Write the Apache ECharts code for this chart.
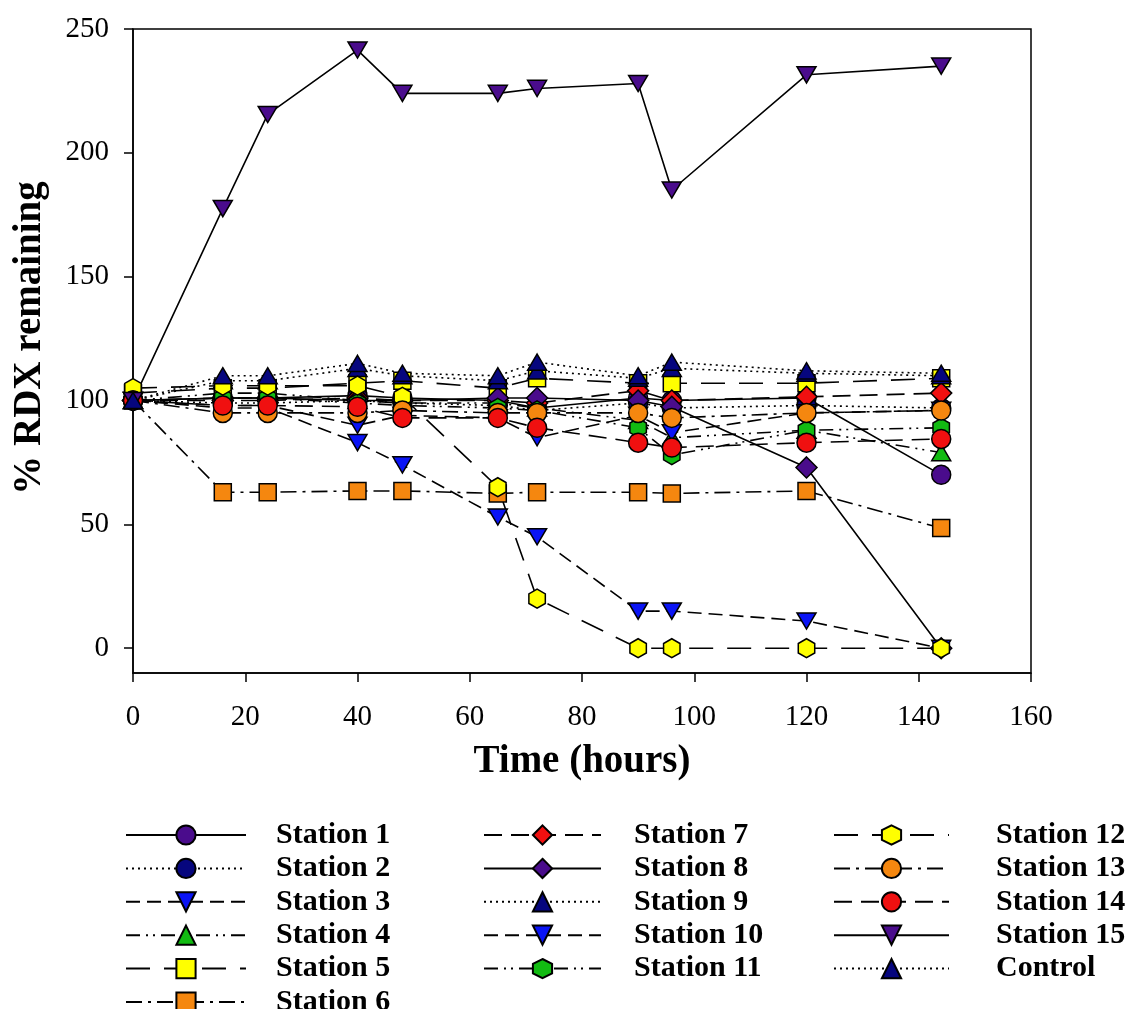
<!DOCTYPE html>
<html>
<head>
<meta charset="utf-8">
<script src="https://cdn.jsdelivr.net/npm/echarts@6/dist/echarts.min.js"></script>
<style>
  html, body { margin: 0; padding: 0; background: #fff; }
  #main { width: 1129px; height: 1009px; }
</style>
</head>
<body>
<div id="main"></div>
<script>
// sampling times (hours)
var hours = [0, 16, 24, 40, 48, 65, 72, 90, 96, 120, 144];

// % RDX remaining
var st1  = [100, 101, 101, 102, 101, 100, 97, 101, 100, 101, 70];
var st2  = [100, 99, 99, 100, 99, 98, 96, 99, 97, 98, 97];
var st3  = [100, 97, 97, 83, 74, 53, 45, 15, 15, 11, 0];
var st4  = [100, 103, 103, 100, 99, 99, 97, 92, 85, 88, 79];
var st5  = [103, 105, 105, 107, 108, 105, 109, 107, 107, 107, 109];
var st6  = [100, 63, 63, 63.5, 63.5, 62.5, 63, 63, 62.5, 63.5, 48.5];
var st7  = [100, 100, 100, 101, 100, 100, 99, 104, 100, 101.5, 103];
var st8  = [100, 101, 101, 100, 100, 101, 101, 100, 97.5, 73, 0];
var st9  = [100, 108, 108, 113, 110, 108, 112, 109, 113, 111, 110];
var st10 = [100, 98, 98, 90, 94, 93, 85, 94, 87, 95, 96];
var st11 = [100, 101, 101, 99, 98, 97, 96, 89, 78, 88, 89];
var st12 = [105, 106, 106, 106, 101.5, 65, 20, 0, 0, 0, 0];
var st13 = [100, 95, 95, 95, 96, 95, 95, 95, 93, 95, 96];
var st14 = [100, 98, 98, 97.5, 93, 93, 89, 83, 81, 83, 84.5];
var st15 = [100, 177.5, 215.5, 241.5, 224, 224, 226, 228, 185, 231.5, 235];
var control = [100, 110, 110, 115, 111, 110, 115.5, 110, 115.5, 112, 111];

var yTicks = [0, 50, 100, 150, 200, 250];

var PURPLE = "#4a0c8c", NAVY = "#06067e", BLUE = "#0a14f5", GREEN = "#12bb12",
    YELLOW = "#ffff00", ORANGE = "#f5870f", RED = "#f01010";

var DOWN = "path://M0,0 L20,0 L10,17 Z";
var UP = "path://M10,0 L20,17 L0,17 Z";
var HEX = "path://M8.66,0 L17.32,5 L17.32,15 L8.66,20 L0,15 L0,5 Z";

var SOLID = "solid", DOT = [2, 4], DASH = [14, 7], DASH2 = [18, 9],
    LONG = [24, 14], DASHDOT = [16, 6, 3, 6], DASHDOTDOT = [14, 6, 2, 5, 2, 6];

function line(name, vals, symbol, color, dash, size) {
  return {
    name: name,
    type: "line",
    data: hours.map(function (h, i) { return [h, vals[i]]; }),
    symbol: symbol,
    symbolSize: size || 19,
    symbolKeepAspect: true,
    lineStyle: { color: "#000", width: 1.6, type: dash },
    itemStyle: { color: color, borderColor: "#000", borderWidth: 1.5, opacity: 1 },
    emphasis: { disabled: true }
  };
}

var series = [
  line("Station 1", st1, "circle", PURPLE, SOLID),
  line("Station 2", st2, "circle", NAVY, DOT),
  line("Station 3", st3, DOWN, BLUE, DASH),
  line("Station 4", st4, UP, GREEN, DASHDOTDOT),
  line("Station 5", st5, "rect", YELLOW, LONG, 17),
  line("Station 6", st6, "rect", ORANGE, DASHDOT, 17),
  line("Station 7", st7, "diamond", RED, DASH2, 21),
  line("Station 8", st8, "diamond", PURPLE, SOLID, 21),
  line("Station 9", st9, UP, NAVY, DOT),
  line("Station 10", st10, DOWN, BLUE, DASH),
  line("Station 11", st11, HEX, GREEN, DASHDOTDOT),
  line("Station 12", st12, HEX, YELLOW, LONG),
  line("Station 13", st13, "circle", ORANGE, DASHDOT),
  line("Station 14", st14, "circle", RED, DASH2),
  line("Station 15", st15, DOWN, PURPLE, SOLID),
  line("Control", control, UP, NAVY, DOT)
];

function legendCol(names, left, width, pad) {
  return {
    orient: "vertical",
    left: left,
    top: 820,
    height: 240,
    padding: 0,
    itemWidth: width,
    itemHeight: 24,
    itemGap: 3.4,
    selectedMode: false,
    data: names,
    textStyle: {
      fontFamily: "Liberation Serif",
      fontWeight: "bold",
      fontSize: 30,
      lineHeight: 30,
      color: "#000",
      padding: [0, 0, 0, pad]
    }
  };
}

var chart = echarts.init(document.getElementById("main"));
var option = {
  animation: false,
  backgroundColor: "#fff",
  grid: {
    left: 133, top: 29, right: 98, bottom: 336,
    show: true, borderColor: "#000", borderWidth: 1.5
  },
  legend: [
    legendCol(["Station 1", "Station 2", "Station 3", "Station 4", "Station 5", "Station 6"], 125, 120, 25),
    legendCol(["Station 7", "Station 8", "Station 9", "Station 10", "Station 11"], 483, 117, 28),
    legendCol(["Station 12", "Station 13", "Station 14", "Station 15", "Control"], 833, 115, 42)
  ],
  xAxis: {
    type: "value",
    min: 0, max: 160, interval: 20,
    name: "Time (hours)",
    nameLocation: "middle",
    nameGap: 69,
    nameTextStyle: { fontFamily: "Liberation Serif", fontWeight: "bold", fontSize: 39, color: "#000" },
    axisLine: { onZero: false, lineStyle: { color: "#000", width: 1.5 } },
    axisTick: { length: 9, lineStyle: { color: "#000", width: 1.5 } },
    axisLabel: { fontFamily: "Liberation Serif", fontSize: 29, color: "#000", margin: 30 },
    splitLine: { show: false }
  },
  yAxis: {
    type: "value",
    min: -10, max: 250,
    name: "% RDX remaining",
    nameLocation: "middle",
    nameGap: 84,
    nameTextStyle: {
      fontFamily: "Liberation Serif", fontWeight: "bold", fontSize: 39, color: "#000",
      padding: [0, 0, 0, 26]
    },
    axisLine: { lineStyle: { color: "#000", width: 1.5 } },
    axisTick: { length: 9, customValues: yTicks, lineStyle: { color: "#000", width: 1.5 } },
    axisLabel: { fontFamily: "Liberation Serif", fontSize: 29, color: "#000", margin: 24, customValues: yTicks },
    splitLine: { show: false }
  },
  series: series
};

option && chart.setOption(option);
</script>
</body>
</html>
